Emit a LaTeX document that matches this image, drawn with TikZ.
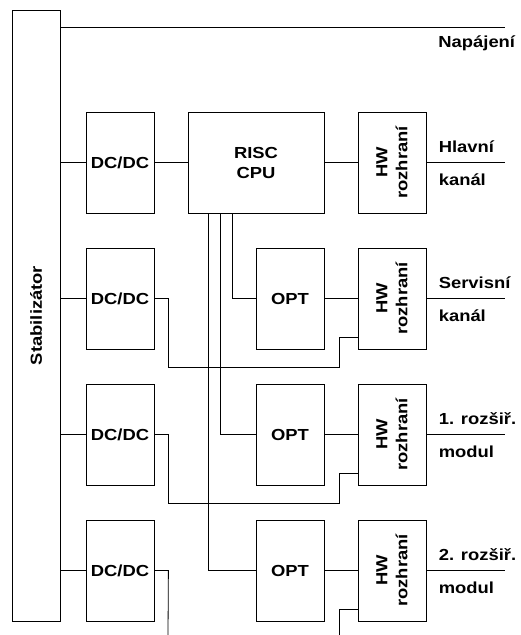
\documentclass[tikz,border=0pt]{standalone}
\usepackage{fontspec}
\setmainfont{Liberation Sans}[FakeStretch=1.15]
\usetikzlibrary{positioning,calc}

\begin{document}
\begin{tikzpicture}[
			x=1pt, y=-1pt,
			node distance={136pt},
			line width=0.8pt,
			font=\fontsize{16}{20}\selectfont\bfseries,
			box/.style = {draw, rectangle, minimum width=68pt, minimum height=101pt, inner sep=0pt},
			cpubox/.style = {box, minimum width=136pt, align=center},
			vtext/.style = {rotate=90, align=center, inner sep=0pt},
			lbl/.style = {anchor=base west, inner sep=0pt}
		]
		\useasboundingbox (0,0) rectangle (520,635);
		\node[draw, minimum width=48pt, minimum height=611pt] (stab) at (36,315.5) {};
		\node[vtext] (stabtxt) at (stab.center) {Stabilizátor};
		\node[box] (dc1) at (120,162.5) {DC/DC};
		\node[cpubox] (cpu) [right of=dc1] {RISC\\CPU};
		\node[box] (hw1) [right of=cpu] {};
		\node[box] (dc2) [below of=dc1] {DC/DC};
		\node[box] (hw2) [below of=hw1] {};
		\node[box] (opt2) [left of=hw2, node distance=102pt] {OPT};
		\node[box] (dc3) [below of=dc2] {DC/DC};
		\node[box] (hw3) [below of=hw2] {};
		\node[box] (opt3) [left of=hw3, node distance=102pt] {OPT};
		\node[box] (dc4) [below of=dc3] {DC/DC};
		\node[box] (hw4) [below of=hw3] {};
		\node[box] (opt4) [left of=hw4, node distance=102pt] {OPT};
		\node[vtext] (hw1txt) at (hw1.center) {HW\\rozhraní};
		\node[vtext] (hw2txt) at (hw2.center) {HW\\rozhraní};
		\node[vtext] (hw3txt) at (hw3.center) {HW\\rozhraní};
		\node[vtext] (hw4txt) at (hw4.center) {HW\\rozhraní};
		\coordinate (napend) at (505,27);
		\coordinate (out1) at (505,162.5);
		\coordinate (out2) at (505,298.5);
		\coordinate (out3) at (505,434.5);
		\coordinate (out4) at (505,570.5);
		\coordinate (dcend) at (168,635);
		\coordinate (hwin) at (339,635);
		% Labels of the outputs
		\node[lbl] (napajeni) at (438,47) {Napájení};
		\node[lbl] (hlavni) at ($(hw1.east)+(12,-10)$) {Hlavní};
		\node[lbl] (kanal1) at ($(hw1.east)+(12,23)$) {kanál};
		\node[lbl] (servis) at ($(hw2.east)+(12,-10)$) {Servisní};
		\node[lbl] (kanal2) at ($(hw2.east)+(12,23)$) {kanál};
		\node[lbl] (rozsir1) at ($(hw3.east)+(12,-10)$) {1. rozšiř.};
		\node[lbl] (modul1) at ($(hw3.east)+(12,23)$) {modul};
		\node[lbl] (rozsir2) at ($(hw4.east)+(12,-10)$) {2. rozšiř.};
		\node[lbl] (modul2) at ($(hw4.east)+(12,23)$) {modul};
		% Draw the power lines
		\draw (stab.east |- napend) -- (napend);
		\draw (stab.east |- dc1) -- (dc1);
		\draw (stab.east |- dc2) -- (dc2);
		\draw (stab.east |- dc3) -- (dc3);
		\draw (stab.east |- dc4) -- (dc4);
		\draw (dc1) -- (cpu);
		\draw (dc2.east) -- ++(14,0) -- ++(0,68.5) -| ($(hw2.west)+(-18,38.5)$) -- ++(18,0);
		\draw (dc3.east) -- ++(14,0) -- ++(0,68.5) -| ($(hw3.west)+(-18,38.5)$) -- ++(18,0);
		\draw (dc4.east) -- ++(14,0) -- (dcend);
		\draw (hwin) |- ($(hw4.west)+(0,39)$);
		% Draw the signal lines
		\draw ([xshift=-24pt]cpu.south) |- (opt2);
		\draw ([xshift=-36pt]cpu.south) |- (opt3);
		\draw ([xshift=-48pt]cpu.south) |- (opt4);
		\draw (cpu) -- (hw1);
		\draw (opt2) -- (hw2);
		\draw (opt3) -- (hw3);
		\draw (opt4) -- (hw4);
		\draw (hw1) -- (out1);
		\draw (hw2) -- (out2);
		\draw (hw3) -- (out3);
		\draw (hw4) -- (out4);
	\end{tikzpicture}
\end{document}
